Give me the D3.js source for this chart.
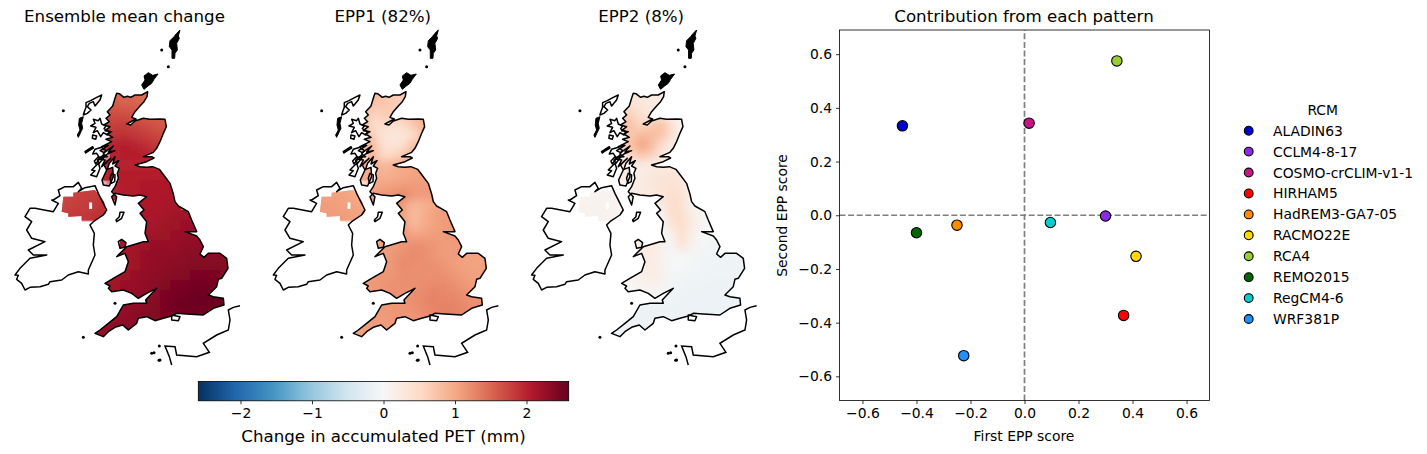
<!DOCTYPE html>
<html><head><meta charset="utf-8">
<script src="https://cdn.jsdelivr.net/npm/d3@7"></script>
<style>html,body{margin:0;padding:0;background:#fff}svg{display:block}text{font-family:"DejaVu Sans";fill:#000}</style>
</head><body><div id="c"></div>
<script>
// ---------- scatter data ----------
const rcmNames=["ALADIN63","CCLM4-8-17","COSMO-crCLIM-v1-1","HIRHAM5","HadREM3-GA7-05","RACMO22E","RCA4","REMO2015","RegCM4-6","WRF381P"];
const rcmColors=["#0000cd","#8a2be2","#c71585","#ff0000","#ff8c00","#ffd700","#9acd32","#006400","#00ced1","#1e90ff"];
const firstScore=[-0.452,0.30,0.017,0.367,-0.25,0.413,0.342,-0.40,0.096,-0.225];
const secondScore=[0.333,-0.003,0.343,-0.373,-0.037,-0.153,0.575,-0.065,-0.027,-0.523];
const scatterTicks=[-0.6,-0.4,-0.2,0,0.2,0.4,0.6];
const colorbarTicks=[-2,-1,0,1,2];
const panelTitles=["Ensemble mean change","EPP1 (82%)","EPP2 (8%)"];
const rdBuStops=["#053061","#2166ac","#4393c3","#92c5de","#d1e5f0","#f7f7f7","#fddbc7","#f4a582","#d6604d","#b2182b","#67001f"];

// ---------- coastlines: map units [east, south] ----------
const greatBritain=[[350,280],[358,281],[372,292],[382,289],[392,292],[405,285],[425,285],[443,275],[441,290],[432,305],[420,318],[405,335],[395,352],[408,357],[380,372],[392,375],[405,363],[430,355],[450,358],[480,357],[495,358],[499,380],[490,400],[480,425],[470,445],[460,457],[430,470],[455,470],[462,474],[440,485],[405,495],[420,500],[440,502],[458,500],[478,508],[495,530],[510,550],[520,582],[525,605],[535,618],[565,635],[575,660],[590,695],[555,695],[590,708],[600,720],[610,740],[600,762],[612,772],[625,760],[660,760],[680,775],[684,805],[665,835],[655,838],[650,860],[625,885],[640,890],[670,895],[672,915],[640,925],[610,945],[560,942],[530,940],[515,948],[490,955],[465,962],[440,950],[415,955],[410,970],[385,990],[368,975],[345,982],[325,995],[310,1010],[285,1000],[300,990],[325,970],[350,950],[370,915],[400,910],[440,910],[437,900],[470,865],[440,880],[415,895],[395,880],[370,870],[335,875],[325,865],[330,858],[315,850],[340,835],[375,815],[385,785],[375,760],[350,770],[380,740],[430,725],[445,725],[435,700],[440,665],[420,640],[432,630],[415,610],[440,590],[420,585],[400,588],[370,585],[345,580],[335,590],[345,615],[350,590],[335,575],[345,560],[355,535],[352,520],[358,505],[345,498],[356,482],[338,492],[345,470],[328,490],[322,508],[338,502],[340,530],[328,558],[310,555],[306,540],[320,510],[312,495],[332,475],[305,500],[315,480],[300,478],[322,462],[345,452],[325,456],[340,438],[312,458],[300,452],[325,436],[305,440],[335,425],[318,418],[338,412],[322,402],[335,395],[315,392],[330,380],[312,375],[328,365],[318,355],[330,345],[322,335],[338,318],[345,295]];
const ireland=[[160,600],[180,587],[175,570],[195,560],[220,560],[235,547],[245,565],[235,575],[255,563],[285,557],[295,580],[310,610],[320,630],[310,645],[280,665],[270,675],[283,700],[280,735],[285,765],[265,810],[265,822],[235,815],[205,825],[185,840],[150,845],[145,853],[120,860],[90,862],[75,870],[65,850],[50,838],[55,826],[45,825],[60,805],[90,775],[140,765],[100,765],[85,750],[135,725],[95,715],[80,690],[95,665],[75,650],[90,625],[105,625],[160,635],[175,610],[155,600]];
const lewis=[[305,285],[300,300],[285,318],[280,305],[268,310],[262,320],[273,330],[262,340],[250,345],[253,335],[258,322],[258,308],[272,302],[290,292]];
const uists=[[250,350],[245,370],[248,385],[243,395],[235,412],[232,405],[240,390],[236,375],[238,355]];
const skye=[[280,358],[295,362],[300,355],[305,372],[318,378],[312,386],[328,395],[322,405],[310,398],[302,410],[292,392],[280,398],[288,382],[272,378],[285,370]];
const rum=[[278,405],[290,408],[287,418],[277,415]];
const mull=[[285,448],[305,442],[318,452],[310,462],[322,470],[298,472],[290,460],[278,462]];
const tiree=[[255,455],[265,448],[278,440],[280,444],[267,452],[257,459]];
const islay=[[275,510],[295,490],[300,505],[290,530],[272,525],[285,512]];
const jura=[[292,480],[310,465],[312,472],[298,490]];
const colonsay=[[283,483],[295,470],[298,478],[287,492]];
const arran=[[335,520],[345,525],[344,545],[334,550],[330,535]];
const orkney=[[445,218],[458,226],[474,222],[462,238],[455,250],[444,258],[432,268],[425,255],[435,240],[432,228]];
const shetland=[[540,90],[535,108],[538,115],[530,130],[532,150],[525,160],[524,175],[516,175],[516,150],[508,140],[510,122],[522,110],[530,100]];
const manx=[[360,637],[372,637],[365,655],[350,665],[348,660],[358,650]];
const anglesey=[[355,725],[365,718],[378,728],[375,742],[360,745]];
const wight=[[515,945],[540,950],[535,962],[515,960]];
const france=[[720,917],[700,922],[685,930],[690,960],[685,990],[650,1005],[610,1030],[628,1057],[590,1070],[530,1065],[525,1040],[495,1038],[508,1070],[515,1095]];
const smallIslets=[[485,150],[505,200],[190,332],[345,910],[250,1012],[455,1060],[462,1058],[478,1038],[480,1080],[477,1081]];
const outlinedLand=[greatBritain,ireland,lewis,skye,rum,mull,tiree,islay,jura,colonsay,arran,manx,anglesey,wight];
const solidLand=[uists,orkney,shetland];
// data mask of the field over Northern Ireland (and its missing cell)
const niMask=[[190,590],[220,590],[220,578],[285,570],[300,590],[312,605],[318,640],[300,650],[275,665],[245,665],[245,648],[205,650],[205,640],[185,635]];
const niHole=[[267,607],[277,607],[277,627],[267,627]];

// ---------- gridded fields (mm): rows north→south, columns west→east ----------
const _=null;
const gridEast0=180, gridSouth0=270, gridStep=30;
const meanField=[
[_,_,_,_,_,1.5,1.5,1.5,1.45,_,_,_,_,_,_,_,_],
[_,_,_,_,1.6,1.6,1.55,1.55,1.5,_,_,_,_,_,_,_,_],
[_,_,_,_,1.7,1.7,1.7,1.65,1.6,1.6,1.6,_,_,_,_,_,_],
[_,_,_,1.6,1.75,1.8,1.8,1.75,1.7,1.65,1.6,_,_,_,_,_,_],
[_,_,_,_,1.8,1.9,1.9,1.85,1.8,1.75,1.7,_,_,_,_,_,_],
[_,_,_,_,1.9,2.0,2.05,2.0,1.95,1.85,_,_,_,_,_,_,_],
[_,_,_,_,_,2.0,2.05,2.05,2.0,1.95,_,_,_,_,_,_,_],
[_,_,_,_,2.0,2.0,2.0,2.0,2.0,2.0,2.0,_,_,_,_,_,_],
[_,_,_,_,2.0,2.05,2.05,2.05,2.05,2.05,2.05,_,_,_,_,_,_],
[_,_,_,_,_,2.0,2.05,2.05,2.1,2.1,2.1,2.1,_,_,_,_,_],
[1.75,1.75,1.8,1.8,1.85,2.0,2.05,2.05,2.1,2.1,2.1,2.1,_,_,_,_,_],
[1.75,1.8,1.8,1.85,1.9,_,_,2.1,2.1,2.1,2.15,2.15,_,_,_,_,_],
[1.8,1.85,1.85,1.9,1.9,_,_,_,2.1,2.15,2.15,2.2,2.2,_,_,_,_],
[_,_,_,_,_,_,_,_,2.15,2.15,2.2,2.2,2.25,2.25,_,_,_],
[_,_,_,_,_,_,_,_,2.2,2.2,2.2,2.25,2.25,2.25,_,_,_],
[_,_,_,_,_,_,2.15,2.2,2.2,2.25,2.25,2.25,2.3,2.3,2.3,_,_],
[_,_,_,_,_,2.15,2.15,2.2,2.25,2.3,2.3,2.3,2.35,2.35,2.35,2.35,2.35],
[_,_,_,_,_,_,2.15,2.2,2.25,2.3,2.3,2.35,2.35,2.4,2.4,2.4,2.4],
[_,_,_,_,_,2.15,2.2,2.25,2.3,2.3,2.35,2.4,2.4,2.45,2.45,2.45,2.4],
[_,_,_,_,2.15,2.2,2.25,2.25,2.3,2.35,2.4,2.45,2.45,2.5,2.5,2.45,_],
[_,_,_,_,2.2,2.2,2.25,2.3,2.3,2.35,2.45,2.5,2.5,2.55,2.55,2.55,2.55],
[_,_,_,_,_,2.2,2.25,2.3,2.35,2.4,2.45,2.5,2.55,2.55,2.55,2.55,2.55],
[_,_,_,_,2.25,2.25,2.3,2.35,2.4,2.4,2.45,2.5,2.5,2.5,2.5,_,_],
[_,_,_,2.3,2.3,2.3,2.35,2.35,_,_,_,_,_,_,_,_,_],
[_,_,_,2.25,2.3,2.3,_,_,_,_,_,_,_,_,_,_,_]];
const epp1Field=[
[_,_,_,_,_,.85,.75,.7,.65,_,_,_,_,_,_,_,_],
[_,_,_,_,.9,.75,.7,.65,.6,_,_,_,_,_,_,_,_],
[_,_,_,_,.9,.55,.65,.7,.65,.85,.95,_,_,_,_,_,_],
[_,_,_,.9,.85,.45,.5,.45,.5,.7,.9,_,_,_,_,_,_],
[_,_,_,_,.9,.6,.35,.3,.3,.45,.8,_,_,_,_,_,_],
[_,_,_,_,.9,.8,.4,.35,.45,.8,_,_,_,_,_,_,_],
[_,_,_,_,_,.85,.5,.55,.7,.9,_,_,_,_,_,_,_],
[_,_,_,_,1.0,.95,.85,.95,1.0,1.0,1.0,_,_,_,_,_,_],
[_,_,_,_,1.0,.95,.9,.95,1.0,1.05,1.05,_,_,_,_,_,_],
[_,_,_,_,_,1.0,1.05,1.05,1.1,1.1,1.1,1.1,_,_,_,_,_],
[1.05,1.05,1.05,1.0,1.0,1.1,1.15,1.2,1.25,1.15,1.1,1.1,_,_,_,_,_],
[1.1,1.1,1.05,1.05,1.0,_,_,1.15,1.1,.85,.9,1.0,_,_,_,_,_],
[1.1,1.1,1.1,1.05,1.05,_,_,_,1.05,.8,.95,1.05,1.1,_,_,_,_],
[_,_,_,_,_,_,_,_,1.1,.85,.95,1.05,1.1,1.1,_,_,_],
[_,_,_,_,_,_,_,_,1.15,1.05,1.05,1.1,1.1,1.15,_,_,_],
[_,_,_,_,_,_,1.05,1.1,1.15,1.2,1.2,1.15,1.1,1.1,1.15,_,_],
[_,_,_,_,_,1.05,1.1,1.15,1.2,1.25,1.2,1.15,1.1,1.1,1.05,1.05,1.05],
[_,_,_,_,_,_,1.1,1.15,1.25,1.2,1.2,1.2,1.15,1.1,1.05,1.05,1.05],
[_,_,_,_,_,1.1,1.15,1.15,1.2,1.2,1.2,1.2,1.2,1.15,1.1,1.05,1.1],
[_,_,_,_,1.1,1.15,1.15,1.2,1.2,1.2,1.2,1.25,1.25,1.2,1.15,1.1,_],
[_,_,_,_,1.1,1.1,1.15,1.2,1.15,1.2,1.25,1.3,1.25,1.25,1.2,1.15,1.2],
[_,_,_,_,_,1.1,1.15,1.15,1.15,1.2,1.25,1.3,1.3,1.3,1.25,1.2,1.2],
[_,_,_,_,1.1,1.1,1.1,1.15,1.15,1.15,1.2,1.25,1.3,1.3,1.25,_,_],
[_,_,_,1.1,1.1,1.1,1.1,1.1,_,_,_,_,_,_,_,_,_],
[_,_,_,1.05,1.05,1.1,_,_,_,_,_,_,_,_,_,_,_]];
const epp2Field=[
[_,_,_,_,_,.3,.3,.25,.2,_,_,_,_,_,_,_,_],
[_,_,_,_,.45,.4,.3,.25,.15,_,_,_,_,_,_,_,_],
[_,_,_,_,.65,.6,.4,.25,.25,.1,.02,_,_,_,_,_,_],
[_,_,_,.6,.8,.75,.55,.7,.8,.45,.05,_,_,_,_,_,_],
[_,_,_,_,.7,.7,.85,.8,.75,.4,.05,_,_,_,_,_,_],
[_,_,_,_,.6,.8,1.05,.85,.45,.2,_,_,_,_,_,_,_],
[_,_,_,_,_,.55,.75,.6,.3,.15,_,_,_,_,_,_,_],
[_,_,_,_,.25,.25,.2,.2,.2,.2,.1,_,_,_,_,_,_],
[_,_,_,_,.2,.2,.2,.3,.35,.35,.3,.05,_,_,_,_,_],
[_,_,_,_,_,.15,.25,.3,.35,.4,.3,.1,_,_,_,_,_],
[.05,.05,.07,.07,.05,.15,.25,.25,.35,.45,.4,.1,_,_,_,_,_],
[.1,.1,.1,.07,.05,_,_,.05,.25,.5,.4,.1,_,_,_,_,_],
[.08,.1,.1,.07,.05,_,_,_,.1,.45,.45,.2,.02,_,_,_,_],
[_,_,_,_,_,_,_,_,0,.35,.5,.25,.05,-.03,_,_,_],
[_,_,_,_,_,_,_,_,-.05,.1,.45,.15,.0,-.05,_,_,_],
[_,_,_,_,_,_,.15,.2,.15,-.05,.4,.1,-.05,-.08,-.1,_,_],
[_,_,_,_,_,.15,.2,.25,.1,-.03,-.03,-.05,-.08,-.1,-.12,-.12,-.12],
[_,_,_,_,_,_,.2,.2,.12,-.03,-.02,-.05,-.08,-.1,-.12,-.12,-.12],
[_,_,_,_,_,.05,.15,.2,.15,-.05,-.08,-.1,-.1,-.12,-.12,-.12,-.12],
[_,_,_,_,.02,.05,.08,.15,.1,-.08,-.1,-.12,-.12,-.13,-.13,-.13,_],
[_,_,_,_,-.03,-.03,.0,-.05,-.08,-.1,-.12,-.13,-.15,-.15,-.15,-.15,-.15],
[_,_,_,_,_,-.1,-.12,-.12,-.12,-.12,-.13,-.14,-.15,-.15,-.15,-.15,-.15],
[_,_,_,_,-.12,-.12,-.13,-.13,-.13,-.13,-.14,-.15,-.15,-.15,-.15,_,_],
[_,_,_,-.12,-.12,-.13,-.13,-.13,_,_,_,_,_,_,_,_,_],
[_,_,_,-.1,-.12,-.12,_,_,_,_,_,_,_,_,_,_,_]];
const fields=[meanField,epp1Field,epp2Field];

// ---------- layout ----------
const W=1427,H=454;
const svg=d3.select("#c").append("svg").attr("width",W).attr("height",H).attr("viewBox",`0 0 ${W} ${H}`);
const panelX=d3.scaleLinear().domain([0,1,2]).range([0,258.3,516.6]);
const mapX=d3.scaleLinear().domain([0,750]).range([0,250]);
const mapY=d3.scaleLinear().domain([0,1362]).range([0,454]);
const cbLimit=2.59;
const color=d3.scaleLinear().domain(d3.range(11).map(i=>-cbLimit+i*cbLimit/5)).range(rdBuStops).interpolate(d3.interpolateRgb).clamp(true);
const ringPath=d3.line().x(d=>mapX(d[0])).y(d=>mapY(d[1]));
const closedRing=r=>ringPath(r)+"Z";

const defs=svg.append("defs");
const clip=defs.append("clipPath").attr("id","landClip");
[greatBritain,anglesey,lewis].forEach(r=>clip.append("path").attr("d",closedRing(r)));
clip.append("path").attr("clip-rule","evenodd").attr("d",closedRing(niMask)+closedRing(niHole));
defs.append("filter").attr("id","soft").attr("filterUnits","userSpaceOnUse")
  .attr("x",0).attr("y",0).attr("width",300).attr("height",454)
  .append("feGaussianBlur").attr("stdDeviation",4);

fields.forEach((field,pi)=>{
  const g=svg.append("g").attr("transform",`translate(${panelX(pi)},0)`);
  const heat=g.append("g").attr("clip-path","url(#landClip)");
  const cells=field.flatMap((row,j)=>row.map((v,i)=>({i,j,v}))).filter(d=>d.v!==null);
  const drawCells=layer=>layer.selectAll("rect").data(cells).join("rect")
    .attr("x",d=>mapX(gridEast0+d.i*gridStep))
    .attr("y",d=>mapY(gridSouth0+d.j*gridStep))
    .attr("width",mapX(gridStep)-mapX(0)+0.5)
    .attr("height",mapY(gridStep)-mapY(0)+0.5)
    .attr("fill",d=>color(d.v));
  drawCells(heat.append("g"));
  drawCells(heat.append("g").attr("filter","url(#soft)"));
  g.selectAll("path.coast").data(outlinedLand).join("path").attr("class","coast")
    .attr("d",closedRing).attr("fill","none").attr("stroke","#000").attr("stroke-width",1.5).attr("stroke-linejoin","round");
  g.selectAll("path.solid").data(solidLand).join("path").attr("class","solid")
    .attr("d",closedRing).attr("fill","#000").attr("stroke","#000").attr("stroke-width",1).attr("stroke-linejoin","round");
  g.append("path").attr("d",ringPath(france)).attr("fill","none").attr("stroke","#000").attr("stroke-width",1.5);
  g.selectAll("circle").data(smallIslets).join("circle")
    .attr("cx",d=>mapX(d[0])).attr("cy",d=>mapY(d[1])).attr("r",1.5).attr("fill","#000");
});
panelTitles.forEach((t,i)=>{
  svg.append("text").attr("x",124.5+panelX(i)).attr("y",22).attr("text-anchor","middle").attr("font-size",16.67).text(t);
});

// ---------- colour bar ----------
const cbScale=d3.scaleLinear().domain([-cbLimit,cbLimit]).range([198.3,568.7]);
const cbTop=381.5, cbH=19.3;
const grad=defs.append("linearGradient").attr("id","cbGrad");
rdBuStops.forEach((c,i)=>grad.append("stop").attr("offset",`${i*10}%`).attr("stop-color",c));
svg.append("rect").attr("x",cbScale.range()[0]).attr("y",cbTop).attr("width",cbScale.range()[1]-cbScale.range()[0]).attr("height",cbH)
  .attr("fill","url(#cbGrad)").attr("stroke","#000").attr("stroke-width",.8);
const cbAxis=svg.append("g").attr("transform",`translate(0,${cbTop+cbH})`)
  .call(d3.axisBottom(cbScale).tickValues(colorbarTicks).tickSize(3.5).tickPadding(4).tickFormat(d3.format("d")));
cbAxis.select(".domain").remove();
cbAxis.selectAll("text").attr("font-size",13.89).attr("font-family","DejaVu Sans");
cbAxis.selectAll("line").attr("stroke-width",.8);
svg.append("text").attr("x",383.5).attr("y",442).attr("text-anchor","middle").attr("font-size",16.67).text("Change in accumulated PET (mm)");

// ---------- scatter ----------
const x=d3.scaleLinear().domain([-0.685,0.685]).range([839.5,1209.5]);
const y=d3.scaleLinear().domain([-0.69,0.69]).range([400.5,30]);
const gx=svg.append("g").attr("transform","translate(0,400.5)")
  .call(d3.axisBottom(x).tickValues(scatterTicks).tickSize(3.5).tickPadding(4).tickFormat(d3.format(".1f")));
const gy=svg.append("g").attr("transform","translate(839.5,0)")
  .call(d3.axisLeft(y).tickValues(scatterTicks).tickSize(3.5).tickPadding(4).tickFormat(d3.format(".1f")));
[gx,gy].forEach(a=>{a.select(".domain").remove();a.selectAll("text").attr("font-size",13.89).attr("font-family","DejaVu Sans");a.selectAll("line").attr("stroke-width",.8);});
svg.append("line").attr("x1",x.range()[0]).attr("x2",x.range()[1]).attr("y1",y(0)).attr("y2",y(0)).attr("stroke","#7f7f7f").attr("stroke-width",1.7).attr("stroke-dasharray","6,2.6");
svg.append("line").attr("x1",x(0)).attr("x2",x(0)).attr("y1",y.range()[0]).attr("y2",y.range()[1]).attr("stroke","#7f7f7f").attr("stroke-width",1.7).attr("stroke-dasharray","6,2.6");
svg.append("rect").attr("x",839.5).attr("y",30).attr("width",370).attr("height",370.5).attr("fill","none").attr("stroke","#000").attr("stroke-width",.8);
svg.append("g").selectAll("circle").data(rcmNames).join("circle")
  .attr("cx",(d,i)=>x(firstScore[i])).attr("cy",(d,i)=>y(secondScore[i])).attr("r",5.2)
  .attr("fill",(d,i)=>rcmColors[i]).attr("stroke","#000").attr("stroke-width",1.1);
svg.append("text").attr("x",1024).attr("y",22).attr("text-anchor","middle").attr("font-size",16.67).text("Contribution from each pattern");
svg.append("text").attr("x",1024).attr("y",441).attr("text-anchor","middle").attr("font-size",13.89).text("First EPP score");
svg.append("text").attr("transform","translate(787,215.5) rotate(-90)").attr("text-anchor","middle").attr("font-size",13.89).text("Second EPP score");

// ---------- legend ----------
svg.append("text").attr("x",1322.7).attr("y",115).attr("text-anchor","middle").attr("font-size",13.89).text("RCM");
const lg=svg.append("g").selectAll("g").data(rcmNames).join("g").attr("transform",(d,i)=>`translate(0,${d3.scaleLinear().domain([0,9]).range([130.7,319])(i)})`);
lg.append("circle").attr("cx",1248.7).attr("r",4.4).attr("fill",(d,i)=>rcmColors[i]).attr("stroke","#000").attr("stroke-width",1.1);
lg.append("text").attr("x",1273).attr("y",5).attr("font-size",13.89).text(d=>d);
</script></body></html>
